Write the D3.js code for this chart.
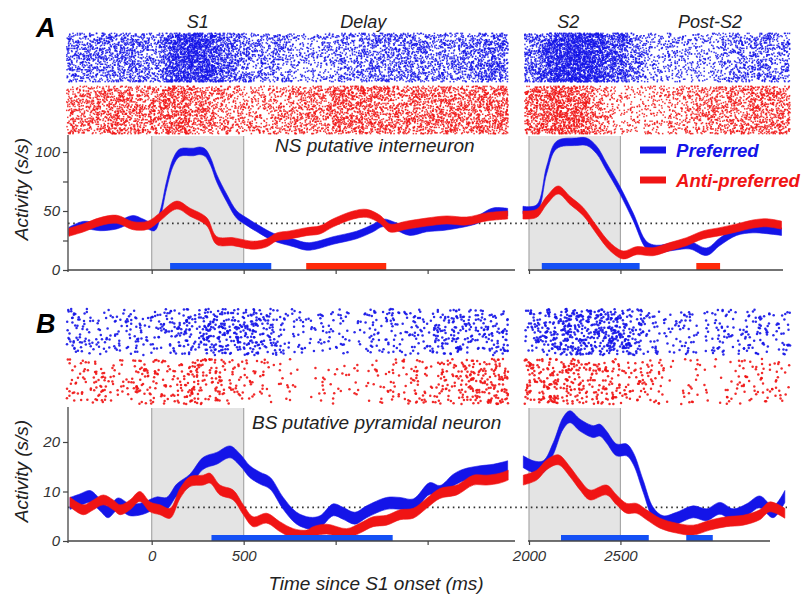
<!DOCTYPE html>
<html>
<head>
<meta charset="utf-8">
<script src="https://cdn.jsdelivr.net/npm/d3@7"></script>
<style>
  body { margin: 0; background: #fff; }
  svg { display: block; font-family: "Liberation Sans", Arial, sans-serif; }
</style>
</head>
<body>
<div id="content"></div>
<script>
// ---- data: [time (ms), rate (s/s)] ----
// Panel A, NS putative interneuron
var aBlueLeft = [[-450,33],[-373,38],[-280,36.5],[-190,38],[-100,43],[-47,40],[15,36.5],[45,46.6],[81,72],[118,91.8],[154,99.5],[226,100],[262,101],[290,99.5],[320,92],[353,78],[408,61],[462,47],[516,41],[589,34],[660,28],[770,23],[842,20],[897,21],[986,25],[1114,29.7],[1204,35.6],[1258,40],[1331,36.7],[1404,32.5],[1494,35.6],[1584,36.7],[1676,39],[1766,42.4],[1856,49.4],[1935,49]];
var aRedLeft = [[-450,32],[-373,35.6],[-280,41],[-190,43],[-100,37.5],[-20,38],[45,45],[136,55],[208,49],[299,41],[353,25],[443,24],[552,21],[625,23],[679,28],[751,29.7],[842,32.5],[915,34],[987,40],[1096,46.6],[1168,48],[1241,43],[1295,35.6],[1386,38],[1494,40.6],[1603,42.4],[1712,41.5],[1821,45],[1935,46.6]];
var aBlueRight = [[1967,50.8],[2042,52],[2097,85],[2151,106],[2260,108.7],[2315,108.7],[2370,101.7],[2424,87.5],[2497,67.8],[2570,45],[2643,21],[2697,17.8],[2787,19.8],[2880,21],[2971,15.5],[3044,24],[3135,32.5],[3225,34.7],[3300,34],[3381,32.5]];
var aRedRight = [[1967,46.6],[2042,48],[2097,59],[2160,67.8],[2224,59],[2297,49.4],[2370,34],[2443,19.8],[2515,12.7],[2588,16.4],[2678,15.5],[2770,19.8],[2861,24],[2951,29.7],[3044,32.5],[3135,35.6],[3225,39],[3300,40],[3381,38]];
// Panel B, BS putative pyramidal neuron
var bBlueLeft = [[-444,7.6],[-390,8.3],[-335,9],[-281,7.3],[-237,5.9],[-183,7.5],[-118,6.3],[-47,6.6],[27,7.7],[81,7.6],[136,10.3],[208,12.3],[280,15.7],[353,16.7],[426,18],[480,16.4],[534,14],[589,12.7],[643,11.7],[715,7.6],[788,4.6],[860,3.6],[915,3.9],[987,6.3],[1040,5.6],[1105,4.6],[1168,5.9],[1277,7.6],[1350,7.6],[1422,7.3],[1512,10.6],[1567,10],[1640,12.3],[1694,13.3],[1785,14],[1857,14.3],[1935,15]];
var bRedLeft = [[-444,7.9],[-372,6.3],[-317,7.3],[-263,8.3],[-209,7.3],[-172,6.3],[-118,7.3],[-64,9],[-9,6.9],[45,6.3],[100,5.6],[154,9.6],[208,12],[280,12.3],[317,12.7],[371,10.3],[443,9.3],[498,6.3],[552,3.9],[625,4.6],[697,2.9],[770,1.5],[842,1.2],[878,1.9],[951,2.4],[1060,1.5],[1132,2.6],[1204,3.9],[1277,4.2],[1350,5.3],[1422,5.6],[1494,7.6],[1567,9.6],[1658,10.3],[1749,12.3],[1821,12.3],[1893,12.7],[1938,13.3]];
var bBlueRight = [[1969,16],[2024,15],[2078,15],[2133,18.7],[2187,23.8],[2224,25.1],[2279,23.4],[2351,22.1],[2388,22.4],[2424,21],[2479,18.4],[2534,18.4],[2570,16.7],[2625,11],[2679,5.6],[2734,3.9],[2807,4.6],[2898,5.9],[2971,5.3],[3044,6.6],[3117,5.3],[3190,6.3],[3262,7.9],[3335,5.9],[3399,9]];
var bRedRight = [[1969,12.3],[2042,13.3],[2097,15.4],[2160,16.4],[2224,14],[2279,11.3],[2333,9.3],[2424,10.3],[2479,8.3],[2534,6.6],[2588,6.6],[2643,5.3],[2716,3.6],[2807,2.6],[2898,2.2],[2989,3.2],[3080,3.9],[3171,4.2],[3262,5.3],[3317,6.9],[3399,5.6]];

// significant-difference bars [start, end] in ms
var aBlueBars = [[100,650],[2070,2605]];
var aRedBars = [[840,1275],[2915,3045]];
var bBlueBars = [[325,1310],[2175,2655],[2860,3005]];

// baseline (dotted line) levels
var aBaseline = 39.5;
var bBaseline = 6.8;

// epochs
var epochs = [[0,500],[2000,2500]];
var epochNames = [["S1",250],["Delay",1150],["S2",2215],["Post-S2",2990]];

var aTicks = [0,25,50,75,100];
var aTickLabels = [0,50,100];
var bTicks = [0,10,20];
var xTicksLeft = [0,500,1000,1500];
var xTicksRight = [2000,2500];
var xTickLabels = [0,500,2000,2500];

(() => {
    var width = 805, height = 596;
    var blue = "#1414e8", red = "#f01414";
    var barBlue = "#1450f5", barRed = "#ff2a0a";

    var svg = d3.select("#content").append("svg")
        .attr("width", width)
        .attr("height", height);

    // broken time axis: left piece and right piece
    var xL = d3.scaleLinear().domain([-455, 1975]).range([68, 515]);
    var xR = d3.scaleLinear().domain([2000, 3400]).range([529, 785]);
    var xOf = function (t) { return t < 1960 ? xL(t) : xR(t); };

    var yA = d3.scaleLinear().domain([0, 114.4]).range([270, 135]);
    var yB = d3.scaleLinear().domain([0, 27.07]).range([541, 407]);

    // linear interpolation of a rate curve (for the raster density)
    function rateAt(pts, t) {
        if (t <= pts[0][0]) return pts[0][1];
        for (var i = 1; i < pts.length; i++) {
            if (t <= pts[i][0]) {
                var f = (t - pts[i - 1][0]) / (pts[i][0] - pts[i - 1][0]);
                return pts[i - 1][1] + f * (pts[i][1] - pts[i - 1][1]);
            }
        }
        return pts[pts.length - 1][1];
    }

    // deterministic hash for spike jitter
    function hash(a) {
        a = (a + 0x6D2B79F5) | 0;
        var t = Math.imul(a ^ (a >>> 15), 1 | a);
        t = (t + Math.imul(t ^ (t >>> 7), 61 | t)) ^ t;
        return ((t ^ (t >>> 14)) >>> 0) / 4294967296;
    }

    function raster(g, left, right, yTop, yBot, nTrials, seed, color, dot) {
        var spikes = [];
        var dt = 2;
        var pieces = [[left, -462, 1938, xL], [right, 1976, 3428, xR]];
        pieces.forEach(function (p, pi) {
            for (var k = 0; k < nTrials; k++) {
                var i = 0;
                for (var t = p[1]; t < p[2]; t += dt, i++) {
                    var key = seed * 7919 + pi * 1000003 + k * 10007 + i;
                    if (hash(key) < rateAt(p[0], t) * dt / 1000) {
                        var jy = dot.jitter ? (hash(key + 17) - 0.5) * dot.jitter : 0;
                        spikes.push({
                            x: p[3](t + hash(key + 5) * dt),
                            y: yTop + (k + 0.5) * (yBot - yTop) / nTrials + jy
                        });
                    }
                }
            }
        });
        if (dot.r) {
            g.selectAll(null).data(spikes).enter().append("circle")
                .attr("cx", function (d) { return d.x; })
                .attr("cy", function (d) { return d.y; })
                .attr("r", dot.r)
                .attr("fill", color)
                .attr("opacity", 0.9);
        } else {
            g.selectAll(null).data(spikes).enter().append("rect")
                .attr("x", function (d) { return d.x - dot.s / 2; })
                .attr("y", function (d) { return d.y - dot.s / 2; })
                .attr("width", dot.s)
                .attr("height", dot.s)
                .attr("fill", color)
                .attr("opacity", 0.85);
        }
    }

    function panel(cfg) {
        var y = cfg.y;
        var top = y.range()[1], bottom = y.range()[0];
        var g = svg.append("g");

        // stimulus epochs
        epochs.forEach(function (e) {
            var x0 = xOf(e[0]), x1 = xOf(e[1]);
            g.append("rect")
                .attr("x", x0).attr("y", top + 1)
                .attr("width", x1 - x0).attr("height", bottom - top - 1)
                .attr("fill", "#e4e4e4");
            [x0, x1].forEach(function (xx) {
                g.append("line")
                    .attr("x1", xx).attr("x2", xx)
                    .attr("y1", top + 1).attr("y2", bottom)
                    .attr("stroke", "#a8a8a8").attr("stroke-width", 1.2);
            });
        });

        // spike rasters
        var rg = g.append("g");
        raster(rg, cfg.blueL, cfg.blueR, cfg.rasterBlue[0], cfg.rasterBlue[1], cfg.nTrials, cfg.seed, blue, cfg.dot);
        raster(rg, cfg.redL, cfg.redR, cfg.rasterRed[0], cfg.rasterRed[1], cfg.nTrials, cfg.seed + 1, red, cfg.dot);

        // baseline
        g.append("line")
            .attr("x1", 68).attr("x2", cfg.dotEnd)
            .attr("y1", y(cfg.baseline)).attr("y2", y(cfg.baseline))
            .attr("stroke", "#333").attr("stroke-width", 1.6)
            .attr("stroke-dasharray", "1.6,3.6");

        // mean +/- sem bands
        function band(pts, hw, color) {
            var area = d3.area()
                .curve(d3.curveCatmullRom.alpha(0.5))
                .x(function (d) { return xOf(d[0]); })
                .y0(function (d) { return y(Math.max(0, d[1] - hw)); })
                .y1(function (d) { return y(d[1] + hw); });
            g.append("path").datum(pts)
                .attr("d", area)
                .attr("fill", color)
                .attr("stroke", color).attr("stroke-width", 0.6);
        }
        band(cfg.blueL, cfg.hwBlue, blue);
        band(cfg.blueR, cfg.hwBlue, blue);
        band(cfg.redL, cfg.hwRed, red);
        band(cfg.redR, cfg.hwRed, red);

        // significance bars
        function bars(list, color) {
            g.selectAll(null).data(list).enter().append("rect")
                .attr("x", function (d) { return xOf(d[0]); })
                .attr("width", function (d) { return xOf(d[1]) - xOf(d[0]); })
                .attr("y", bottom - cfg.barH)
                .attr("height", cfg.barH)
                .attr("fill", color);
        }
        bars(cfg.blueBars, barBlue);
        bars(cfg.redBars, barRed);

        // y axis
        var yAxis = d3.axisLeft(y).tickValues(cfg.yTicks).tickSize(5).tickSizeOuter(0)
            .tickFormat(function (d) { return cfg.yLabels.indexOf(d) >= 0 ? d : ""; });
        var ya = g.append("g").attr("transform", "translate(68,0)").call(yAxis);
        ya.select(".domain").attr("d", "M0," + top + "V" + (bottom + 2)).attr("stroke", "#444").attr("stroke-width", 1.3);
        ya.selectAll(".tick line").attr("stroke", "#444").attr("stroke-width", 1.2);
        ya.selectAll(".tick text")
            .attr("x", -8)
            .style("font-family", "'Liberation Sans', Arial, sans-serif")
            .style("font-size", "15px").style("font-style", "italic")
            .attr("fill", "#333");

        // x axes (broken)
        var fmt = function (d) { return cfg.xLabels && xTickLabels.indexOf(d) >= 0 ? d : ""; };
        [[xL, xTicksLeft, 68, 515], [xR, xTicksRight, 528, cfg.axisEndR]].forEach(function (a) {
            var ax = g.append("g").attr("transform", "translate(0," + bottom + ")")
                .call(d3.axisBottom(a[0]).tickValues(a[1]).tickSize(4).tickSizeOuter(0).tickFormat(fmt));
            ax.select(".domain").attr("d", "M" + a[2] + ",0H" + a[3]).attr("stroke", "#444").attr("stroke-width", 1.3);
            ax.selectAll(".tick line").attr("stroke", "#444").attr("stroke-width", 1.2);
            ax.selectAll(".tick text")
                .attr("y", 9)
                .style("font-family", "'Liberation Sans', Arial, sans-serif")
                .style("font-size", "15px").style("font-style", "italic")
                .attr("fill", "#333");
        });

        // y label
        g.append("text")
            .attr("transform", "translate(28," + cfg.yLabelY + ") rotate(-90)")
            .attr("text-anchor", "middle")
            .style("font-size", "19px").style("font-style", "italic")
            .attr("fill", "#222")
            .text("Activity (s/s)");

        // neuron type
        g.append("text")
            .attr("x", cfg.titleX).attr("y", cfg.titleY)
            .style("font-size", "19px").style("font-style", "italic")
            .attr("fill", "#222")
            .text(cfg.title);

        // panel letter
        g.append("text")
            .attr("x", 36).attr("y", cfg.letterY)
            .style("font-size", "27px").style("font-style", "italic").style("font-weight", "bold")
            .attr("fill", "#000")
            .text(cfg.letter);
    }

    panel({
        y: yA, letter: "A", letterY: 37,
        blueL: aBlueLeft, blueR: aBlueRight, redL: aRedLeft, redR: aRedRight,
        hwBlue: 3.2, hwRed: 3.4, baseline: aBaseline, dotEnd: 768,
        blueBars: aBlueBars, redBars: aRedBars, barH: 7,
        yTicks: aTicks, yLabels: aTickLabels, xLabels: false, axisEndR: 783,
        rasterBlue: [33, 82], rasterRed: [86, 134], nTrials: 62, seed: 11,
        dot: { s: 1.5 },
        yLabelY: 189, title: "NS putative interneuron", titleX: 275, titleY: 152
    });

    panel({
        y: yB, letter: "B", letterY: 333,
        blueL: bBlueLeft, blueR: bBlueRight, redL: bRedLeft, redR: bRedRight,
        hwBlue: 1.2, hwRed: 1.0, baseline: bBaseline, dotEnd: 787,
        blueBars: bBlueBars, redBars: [], barH: 6,
        yTicks: bTicks, yLabels: bTicks, xLabels: true, axisEndR: 770,
        rasterBlue: [309, 355], rasterRed: [359, 404], nTrials: 44, seed: 23,
        dot: { r: 1.25, jitter: 1.2 },
        yLabelY: 471, title: "BS putative pyramidal neuron", titleX: 252, titleY: 429
    });

    // epoch names
    svg.selectAll(null).data(epochNames).enter().append("text")
        .attr("x", function (d) { return xOf(d[1]); })
        .attr("y", 28)
        .attr("text-anchor", "middle")
        .style("font-size", "18px").style("font-style", "italic")
        .attr("fill", "#222")
        .text(function (d) { return d[0]; });

    // legend
    var legend = svg.append("g");
    [["Preferred", blue, 150], ["Anti-preferred", red, 180]].forEach(function (d) {
        legend.append("line")
            .attr("x1", 640).attr("x2", 666)
            .attr("y1", d[2]).attr("y2", d[2])
            .attr("stroke", d[1]).attr("stroke-width", 7);
        legend.append("text")
            .attr("x", 676).attr("y", d[2] + 7)
            .style("font-size", "18.6px").style("font-style", "italic").style("font-weight", "bold")
            .attr("fill", d[1])
            .text(d[0]);
    });

    // x label
    svg.append("text")
        .attr("x", 376).attr("y", 590)
        .attr("text-anchor", "middle")
        .style("font-size", "19px").style("font-style", "italic")
        .attr("fill", "#222")
        .text("Time since S1 onset (ms)");
})();
</script>
</body>
</html>
